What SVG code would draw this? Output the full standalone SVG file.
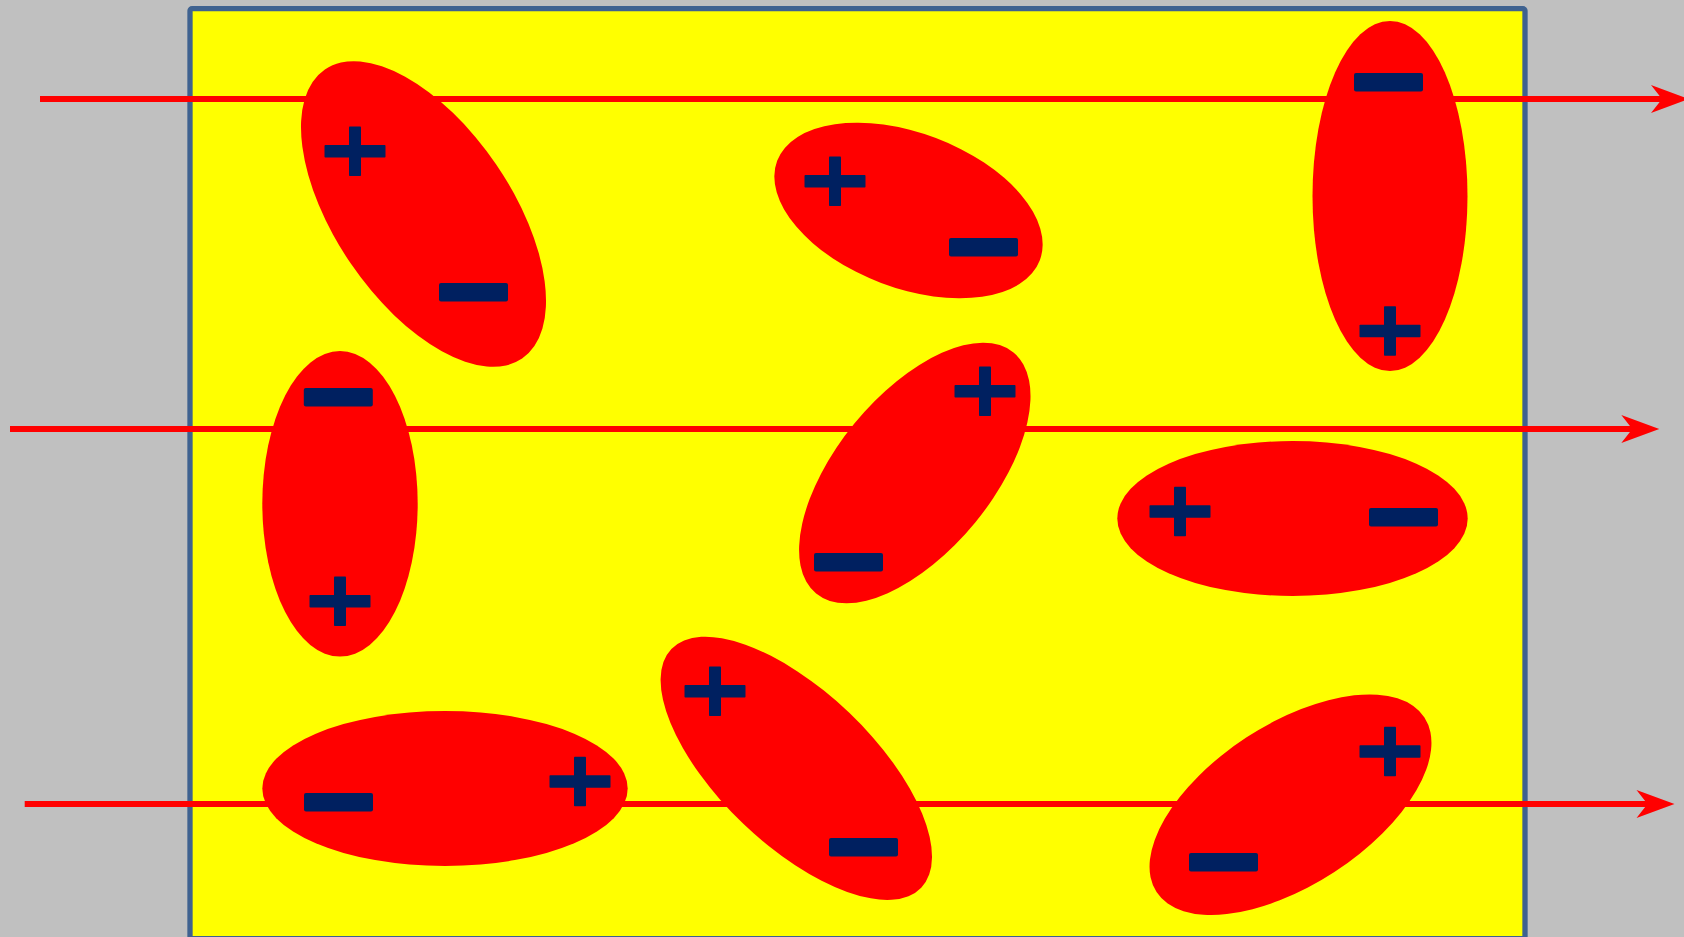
<svg xmlns="http://www.w3.org/2000/svg" xmlns:xlink="http://www.w3.org/1999/xlink" width="1684" height="937" viewBox="0 0 1684 937">
  <style>
    .bg { fill: #c0c0c0; }
    .box { fill: #ffff00; stroke: #3f6290; stroke-width: 5.3; }
    .flow { stroke: #ff0000; stroke-width: 6; fill: none; marker-end: url(#arrow); }
    .dipole { fill: #ff0000; }
    .sign { fill: #002060; }
  </style>
  <defs>
    <marker id="arrow" markerUnits="userSpaceOnUse" viewBox="-40 -16 42 32" markerWidth="42" markerHeight="32" refX="-24" refY="0" orient="auto">
      <path d="M0,0 L-38,-14 L-27,0 L-38,14 Z" fill="#ff0000"/>
    </marker>
    <g id="plus" class="sign">
      <rect x="-30.5" y="-6.2" width="61" height="12.4" rx="0.8"/>
      <rect x="-6" y="-24.7" width="12" height="49.4" rx="0.8"/>
    </g>
    <rect id="minus" class="sign" x="-34.5" y="-9.3" width="69" height="18.6" rx="2"/>
  </defs>

  <rect class="bg" x="0" y="0" width="1684" height="937"/>
  <g id="medium">
    <rect class="box" x="190" y="8.7" width="1335" height="930" rx="2"/>
  </g>

  <g id="connectors">
    <line class="flow" x1="40" y1="99" x2="1665" y2="99"/>
    <line class="flow" x1="10" y1="429" x2="1635.3" y2="429"/>
    <line class="flow" x1="24.7" y1="804" x2="1650.5" y2="804"/>
  </g>

  <g id="dipole-1">
    <ellipse class="dipole" cx="423.5" cy="214" rx="175" ry="88" transform="rotate(55.7 423.5 214)"/>
    <use xlink:href="#plus" x="355" y="151.3"/>
    <use xlink:href="#minus" x="473.5" y="292.3"/>
  </g>
  <g id="dipole-2">
    <ellipse class="dipole" cx="908.5" cy="210.5" rx="140.4" ry="77.4" transform="rotate(20.7 908.5 210.5)"/>
    <use xlink:href="#plus" x="835" y="181.3"/>
    <use xlink:href="#minus" x="983.5" y="247.3"/>
  </g>
  <g id="dipole-3">
    <ellipse class="dipole" cx="1390" cy="196" rx="77.5" ry="175"/>
    <use xlink:href="#minus" x="1388.5" y="82.2"/>
    <use xlink:href="#plus" x="1390" y="331"/>
  </g>
  <g id="dipole-4">
    <ellipse class="dipole" cx="340" cy="503.8" rx="77.7" ry="152.8"/>
    <use xlink:href="#minus" x="338.3" y="397.3"/>
    <use xlink:href="#plus" x="340" y="601.3"/>
  </g>
  <g id="dipole-5">
    <ellipse class="dipole" cx="914.8" cy="473" rx="155.8" ry="78.1" transform="rotate(-50.7 914.8 473)"/>
    <use xlink:href="#plus" x="985" y="391.3"/>
    <use xlink:href="#minus" x="848.5" y="562.3"/>
  </g>
  <g id="dipole-6">
    <ellipse class="dipole" cx="1292.5" cy="518.5" rx="175.2" ry="77.5"/>
    <use xlink:href="#plus" x="1180" y="511.5"/>
    <use xlink:href="#minus" x="1403.5" y="517.3"/>
  </g>
  <g id="dipole-7">
    <ellipse class="dipole" cx="445" cy="788.5" rx="182.7" ry="77.5"/>
    <use xlink:href="#minus" x="338.5" y="802.3"/>
    <use xlink:href="#plus" x="580" y="781.5"/>
  </g>
  <g id="dipole-8">
    <ellipse class="dipole" cx="796.3" cy="768.3" rx="172.8" ry="76.7" transform="rotate(43.7 796.3 768.3)"/>
    <use xlink:href="#plus" x="715" y="691.3"/>
    <use xlink:href="#minus" x="863.5" y="847.3"/>
  </g>
  <g id="dipole-9">
    <ellipse class="dipole" cx="1290.5" cy="804.7" rx="159.9" ry="80.4" transform="rotate(-33.1 1290.5 804.7)"/>
    <use xlink:href="#plus" x="1390" y="751.5"/>
    <use xlink:href="#minus" x="1223.5" y="862.2"/>
  </g>
</svg>
